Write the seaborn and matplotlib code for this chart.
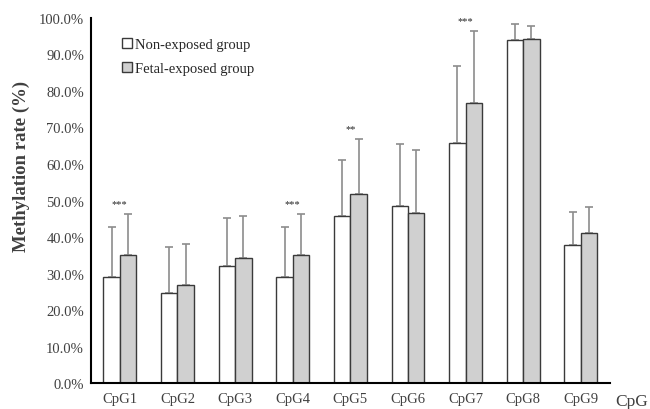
import pandas as pd
import matplotlib
matplotlib.use('Agg')
import matplotlib.pyplot as plt
import seaborn as sns
import numpy as np
from matplotlib.ticker import FuncFormatter

sns.set_style('white')
plt.rcParams['font.family'] = ['Liberation Serif', 'DejaVu Serif']

# Data (percent)
sites = ['CpG1', 'CpG2', 'CpG3', 'CpG4', 'CpG5', 'CpG6', 'CpG7', 'CpG8', 'CpG9']
non_exposed = [29.0, 24.7, 32.0, 29.0, 45.7, 48.4, 65.8, 94.0, 37.8]
non_exposed_sd = [13.8, 12.5, 13.2, 13.8, 15.4, 17.1, 21.1, 4.2, 9.1]
fetal_exposed = [35.1, 26.8, 34.3, 35.1, 51.8, 46.5, 76.8, 94.1, 41.2]
fetal_exposed_sd = [11.3, 11.2, 11.4, 11.3, 15.1, 17.3, 19.7, 3.7, 6.9]
stars = ['***', '', '', '***', '**', '', '***', '', '']
groups = ['Non-exposed group', 'Fetal-exposed group']

df = pd.DataFrame({
    'CpG': sites * 2,
    'Group': [groups[0]] * len(sites) + [groups[1]] * len(sites),
    'Rate': non_exposed + fetal_exposed,
    'SD': non_exposed_sd + fetal_exposed_sd,
})

fig = plt.figure(figsize=(6.5, 4.1), dpi=100)
ax = fig.add_axes([0.14, 0.063, 0.798, 0.891])

sns.barplot(data=df, x='CpG', y='Rate', hue='Group', hue_order=groups,
            order=sites, palette=['white', '#d0d0d0'], width=0.57,
            edgecolor='#3a3a3a', linewidth=1.0, errorbar=None, ax=ax)

# upper-only error bars, placed on the bar centres
for container, grp in zip(ax.containers, groups):
    sub = df[df['Group'] == grp].set_index('CpG').loc[sites]
    xs = [p.get_x() + p.get_width() / 2 for p in container.patches]
    ax.errorbar(xs, sub['Rate'], yerr=[np.zeros(len(sites)), sub['SD']],
                fmt='none', ecolor='#8c8c8c', elinewidth=1.2, capsize=3,
                capthick=1.2, zorder=1)
    for p in container.patches:
        p.set_zorder(2)

# significance marks
tops = np.maximum(np.array(non_exposed) + np.array(non_exposed_sd),
                  np.array(fetal_exposed) + np.array(fetal_exposed_sd))
for i, s in enumerate(stars):
    if s:
        ax.text(i, tops[i] + 1.6, s, ha='center', va='bottom', fontsize=7.5)

ax.set_ylim(0, 100)
ax.set_xlim(-0.5, len(sites) - 0.5)
ax.set_yticks(np.arange(0, 101, 10))
ax.yaxis.set_major_formatter(FuncFormatter(lambda v, _: f'{v:.1f}%'))
ax.tick_params(axis='both', length=0, labelsize=10.5, colors='#404040', pad=5)
ax.tick_params(axis='x', pad=6)
ax.set_ylabel('Methylation rate (%)', fontsize=13.5, fontweight='bold',
              color='#404040')
ax.yaxis.set_label_coords(-0.118, 0.597)
ax.set_xlabel('')
fig.text(0.997, 0.0, 'CpG', ha='right', va='bottom', fontsize=12.5,
         color='#404040')

for side in ['top', 'right']:
    ax.spines[side].set_visible(False)
for side in ['left', 'bottom']:
    ax.spines[side].set_color('black')
    ax.spines[side].set_linewidth(1.5)

ax.legend(loc='upper left', bbox_to_anchor=(0.035, 0.98), frameon=False,
          fontsize=10.5, handlelength=0.7, handleheight=0.7, handletextpad=0.2,
          labelspacing=0.7)

plt.savefig('out.png', dpi=100)
